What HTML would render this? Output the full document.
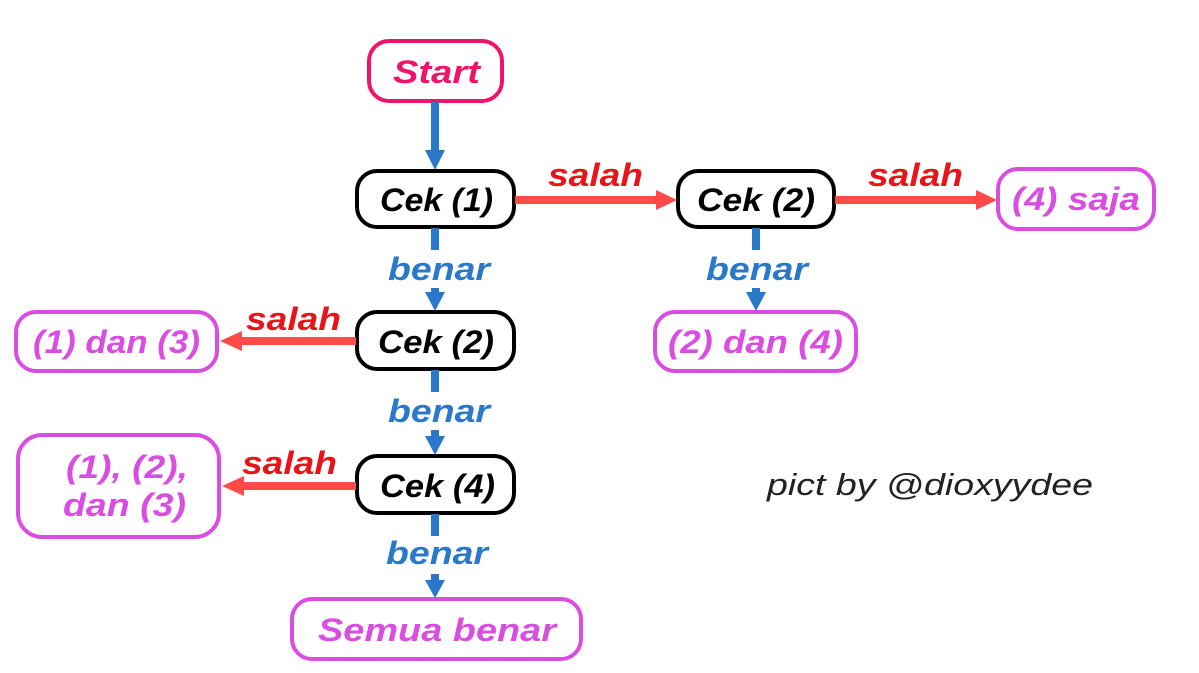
<!DOCTYPE html>
<html><head><meta charset="utf-8"><style>
html,body{margin:0;padding:0;background:#fff;}
svg{display:block;}
text{font-family:"Liberation Sans",sans-serif;font-weight:bold;font-style:italic;}
</style></head><body>
<svg width="1199" height="673" viewBox="0 0 1199 673" xmlns="http://www.w3.org/2000/svg">
<rect width="1199" height="673" fill="#fff"/>
<g fill="#fff" stroke-width="4">
<rect x="369" y="41" width="133" height="60" rx="20" stroke="#f0136a"/>
<rect x="357" y="171" width="157" height="56" rx="20" stroke="#000"/>
<rect x="678" y="171" width="156" height="56" rx="20" stroke="#000"/>
<rect x="998" y="169" width="156" height="60" rx="20" stroke="#d94ee0"/>
<rect x="357" y="312" width="157" height="57" rx="20" stroke="#000"/>
<rect x="16" y="312" width="201" height="59" rx="20" stroke="#d94ee0"/>
<rect x="655" y="312" width="201" height="59" rx="20" stroke="#d94ee0"/>
<rect x="357" y="456" width="157" height="57" rx="20" stroke="#000"/>
<rect x="18" y="435" width="201" height="102" rx="24" stroke="#d94ee0"/>
<rect x="292" y="599" width="289" height="60" rx="20" stroke="#d94ee0"/>
</g>
<g fill="#2a78c9">
<rect x="431" y="102" width="8" height="50"/><polygon points="425,150 445,150 435,170"/>
<rect x="431" y="228" width="8" height="22"/><rect x="431" y="288" width="8" height="6"/><polygon points="425,292 445,292 435,311"/>
<rect x="752" y="228" width="8" height="22"/><rect x="752" y="288" width="8" height="6"/><polygon points="746,292 766,292 756,311"/>
<rect x="431" y="370" width="8" height="22"/><rect x="431" y="430" width="8" height="8"/><polygon points="425,436 445,436 435,455"/>
<rect x="431" y="514" width="8" height="22"/><rect x="431" y="574" width="8" height="8"/><polygon points="425,580 445,580 435,598"/>
</g>
<g fill="#ff4a4a">
<rect x="515" y="196" width="143" height="8"/><polygon points="656,190 677,200 656,210"/>
<rect x="835" y="196" width="143" height="8"/><polygon points="976,190 997,200 976,210"/>
<rect x="240" y="337" width="116" height="8"/><polygon points="242,331 220,341 242,351"/>
<rect x="242" y="482" width="114" height="8"/><polygon points="244,476 222,486 244,496"/>
</g>
<g font-size="32">
<text x="393" y="83" fill="#f0136a" textLength="87" lengthAdjust="spacingAndGlyphs">Start</text>
<text x="380" y="211" fill="#000" textLength="113" lengthAdjust="spacingAndGlyphs">Cek (1)</text>
<text x="697" y="211" fill="#000" textLength="118" lengthAdjust="spacingAndGlyphs">Cek (2)</text>
<text x="1012" y="210" fill="#d94ee0" textLength="128" lengthAdjust="spacingAndGlyphs">(4) saja</text>
<text x="378" y="353" fill="#000" textLength="116" lengthAdjust="spacingAndGlyphs">Cek (2)</text>
<text x="33" y="353" fill="#d94ee0" textLength="167" lengthAdjust="spacingAndGlyphs">(1) dan (3)</text>
<text x="668" y="353" fill="#d94ee0" textLength="175" lengthAdjust="spacingAndGlyphs">(2) dan (4)</text>
<text x="380" y="497" fill="#000" textLength="115" lengthAdjust="spacingAndGlyphs">Cek (4)</text>
<text x="66" y="478" fill="#d94ee0" textLength="122" lengthAdjust="spacingAndGlyphs">(1), (2),</text>
<text x="63" y="516" fill="#d94ee0" textLength="123" lengthAdjust="spacingAndGlyphs">dan (3)</text>
<text x="318" y="641" fill="#d94ee0" textLength="238" lengthAdjust="spacingAndGlyphs">Semua benar</text>
<text x="548" y="186" fill="#e8141a" textLength="95" lengthAdjust="spacingAndGlyphs">salah</text>
<text x="868" y="186" fill="#e8141a" textLength="95" lengthAdjust="spacingAndGlyphs">salah</text>
<text x="246" y="330" fill="#e8141a" textLength="95" lengthAdjust="spacingAndGlyphs">salah</text>
<text x="242" y="474" fill="#e8141a" textLength="95" lengthAdjust="spacingAndGlyphs">salah</text>
<text x="388" y="280" fill="#2a78c9" textLength="102" lengthAdjust="spacingAndGlyphs">benar</text>
<text x="706" y="280" fill="#2a78c9" textLength="102" lengthAdjust="spacingAndGlyphs">benar</text>
<text x="388" y="422" fill="#2a78c9" textLength="102" lengthAdjust="spacingAndGlyphs">benar</text>
<text x="386" y="564" fill="#2a78c9" textLength="102" lengthAdjust="spacingAndGlyphs">benar</text>
<text x="767" y="495" fill="#222" style="font-weight:normal" font-size="31" textLength="326" lengthAdjust="spacingAndGlyphs">pict by @dioxyydee</text>
</g>
</svg>
</body></html>
